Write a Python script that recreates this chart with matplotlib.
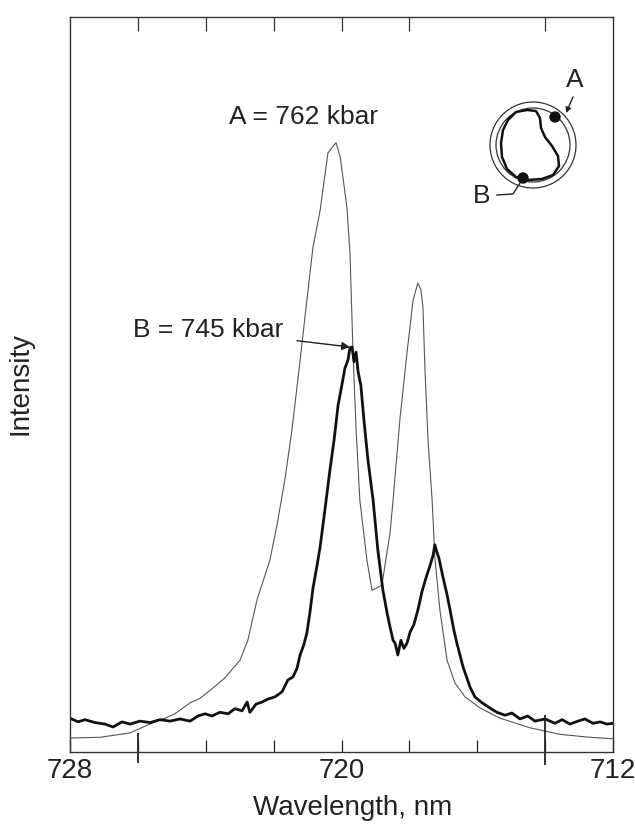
import matplotlib
matplotlib.use("Agg")
import matplotlib.pyplot as plt
from matplotlib.patches import Circle, Polygon

plt.rcParams['font.family'] = ['Liberation Sans', 'DejaVu Sans']

# ---------------- data ----------------
# Curve A (thin, 762 kbar)
wl_a = [728.00, 727.12, 726.23, 725.50, 725.20, 724.91, 724.46, 724.17, 723.79, 723.43,
        722.99, 722.76, 722.49, 722.11, 721.90, 721.67, 721.46, 721.22, 721.02, 720.84,
        720.63, 720.40, 720.25, 720.16, 720.04, 719.84, 719.75, 719.69, 719.66, 719.57,
        719.46, 719.25, 719.10, 718.81, 718.57, 718.48, 718.28, 718.07, 717.89, 717.75,
        717.66, 717.60, 717.54, 717.45, 717.33, 717.25, 717.10, 716.89, 716.66, 716.36,
        715.92, 715.33, 714.45, 713.56, 712.68, 712.00]
int_a = [1.9, 2.0, 2.6, 4.1, 4.6, 5.2, 6.7, 7.3, 8.7, 10.1,
         12.5, 15.2, 20.7, 26.1, 30.9, 37.0, 43.8, 53.3, 61.5, 68.7,
         73.7, 81.5, 82.4, 82.9, 81.0, 74.1, 67.9, 58.8, 54.3, 43.8,
         34.3, 26.1, 22.0, 22.7, 29.8, 34.3, 45.2, 54.3, 61.5, 63.8,
         62.9, 60.5, 52.0, 42.4, 34.3, 26.5, 19.3, 12.5, 9.4, 7.5,
         6.0, 4.6, 3.3, 2.4, 2.0, 1.8]

# Curve B (thick, 745 kbar)
wl_b = [728.00, 727.76, 727.56, 727.26, 726.97, 726.73, 726.47, 726.23, 725.94, 725.64,
        725.35, 725.05, 724.76, 724.46, 724.23, 724.02, 723.82, 723.58, 723.34, 723.14,
        722.93, 722.78, 722.70, 722.52, 722.34, 722.17, 721.96, 721.75, 721.58, 721.43,
        721.31, 721.22, 721.11, 721.02, 720.93, 720.84, 720.72, 720.63, 720.49, 720.34,
        720.22, 720.10, 719.99, 719.90, 719.81, 719.75, 719.69, 719.63, 719.57, 719.51,
        719.43, 719.34, 719.22, 719.07, 718.93, 718.78, 718.66, 718.57, 718.48, 718.42,
        718.34, 718.25, 718.16, 718.07, 717.98, 717.87, 717.75, 717.63, 717.51, 717.39,
        717.30, 717.25, 717.19, 717.13, 717.01, 716.89, 716.80, 716.69, 716.60, 716.42,
        716.21, 716.07, 715.86, 715.63, 715.42, 715.18, 714.98, 714.74, 714.51, 714.30,
        714.00, 713.71, 713.50, 713.27, 713.03, 712.83, 712.59, 712.38, 712.18, 712.00]
int_b = [4.6, 4.1, 4.4, 4.0, 3.8, 3.4, 4.1, 3.8, 4.2, 4.0,
         4.4, 4.2, 4.5, 4.2, 4.9, 5.2, 4.9, 5.4, 5.2, 5.9,
         5.6, 6.8, 5.4, 6.5, 6.8, 7.2, 7.5, 8.2, 9.8, 10.2,
         11.4, 13.2, 14.6, 16.2, 19.0, 22.3, 25.4, 27.9, 32.9, 38.4,
         42.4, 47.2, 49.9, 52.2, 53.3, 55.0, 55.1, 53.1, 54.4, 51.7,
         49.9, 45.2, 39.7, 34.3, 27.5, 22.0, 19.0, 17.0, 15.2, 14.8,
         13.2, 15.2, 14.1, 14.8, 16.3, 17.3, 19.3, 21.8, 23.7, 25.4,
         26.8, 28.2, 27.2, 26.4, 23.8, 21.4, 19.3, 16.6, 14.8, 11.6,
         8.8, 7.5, 6.7, 6.0, 5.4, 5.0, 5.3, 4.5, 4.9, 4.2,
         4.5, 3.9, 4.4, 3.8, 4.2, 4.5, 3.9, 4.1, 3.8, 3.9]

# calibration spikes
spike_wl = [726.0, 714.0]
spike_top = [2.6, 5.0]
spike_bottom = [-1.5, -1.8]

label_a = "A = 762 kbar"
label_b = "B = 745 kbar"
xtick_pos = [728, 726, 724, 722, 720, 718, 716, 714, 712]
xtick_lab = ["728", "", "", "", "720", "", "", "", "712"]
top_ticks = [726, 724, 722, 720, 718, 714]

# ---------------- figure ----------------
fig = plt.figure(figsize=(6.35, 8.24), dpi=100)
ax = fig.add_axes([70/635, 1-752/824, 543/635, 735/824])

ax.plot(wl_a, int_a, color='#555555', lw=0.8)
ax.plot(wl_b, int_b, color='#111111', lw=2.0)
ax.vlines(spike_wl, spike_bottom, spike_top, color='#222222', lw=1.3, clip_on=False)

ax.set_xlim(728, 712)
ax.set_ylim(0, 100)
ax.set_yticks([])
ax.set_xticks(xtick_pos)
ax.set_xticklabels(xtick_lab)
ax.tick_params(axis='x', direction='in', length=9, width=0.9, pad=4,
               labelsize=20, colors='#222222')
for s in ax.spines.values():
    s.set_color('#333333')
    s.set_linewidth(1.0)

sec = ax.secondary_xaxis('top')
sec.set_xticks(top_ticks)
sec.set_xticklabels([])
sec.tick_params(direction='in', length=10, width=0.9, colors='#333333')
sec.spines['top'].set_visible(False)

# annotations
ax.text(721.11, 86.4, label_a, ha='center', va='center', fontsize=19, color='#222222')
ax.annotate(label_b, xy=(719.75, 55.1), xytext=(721.72, 57.4),
            ha='right', va='center', fontsize=19, color='#222222',
            arrowprops=dict(arrowstyle='-|>', color='#222222', lw=1.0,
                            shrinkA=8, shrinkB=0, mutation_scale=12))

fig.text(353/635, 1-815/824, "Wavelength, nm", ha='center', va='baseline',
         fontsize=20, color='#222222')
fig.text(20/635, 1-383/824, "Intensity", ha='center', va='center',
         rotation=90, fontsize=20, color='#222222')

# inset drawing (cell sketch) in pixel coordinates
ov = fig.add_axes([0, 0, 1, 1], facecolor='none')
ov.set_xlim(0, 635)
ov.set_ylim(824, 0)
ov.axis('off')
cx, cy = 533, 145
ov.add_patch(Circle((cx, cy), 43, fill=False, ec='#333333', lw=0.9))
ov.add_patch(Circle((cx, cy), 37, fill=False, ec='#333333', lw=0.9))
kid = [(527, 110), (536, 111), (540, 118), (541, 128), (545, 137), (552, 146),
       (558, 156), (559, 166), (553, 175), (542, 179), (528, 180), (516, 177),
       (507, 169), (502, 157), (501, 143), (503, 130), (508, 120), (516, 112)]
ov.add_patch(Polygon(kid, closed=True, fill=False, ec='#111111', lw=1.8,
                     joinstyle='round'))
ov.add_patch(Circle((555, 117), 5, color='#111111'))
ov.add_patch(Circle((523, 178), 5, color='#111111'))
ov.text(575, 80, "A", ha='center', va='center', fontsize=19, color='#222222')
ov.text(482, 196, "B", ha='center', va='center', fontsize=19, color='#222222')
ov.annotate("", xy=(566, 113), xytext=(573, 97),
            arrowprops=dict(arrowstyle='-|>', color='#222222', lw=1.0,
                            shrinkA=0, shrinkB=0, mutation_scale=8))
ov.plot([497, 513, 520], [195, 194, 183], color='#222222', lw=1.0)

fig.savefig("out.png", dpi=100)
